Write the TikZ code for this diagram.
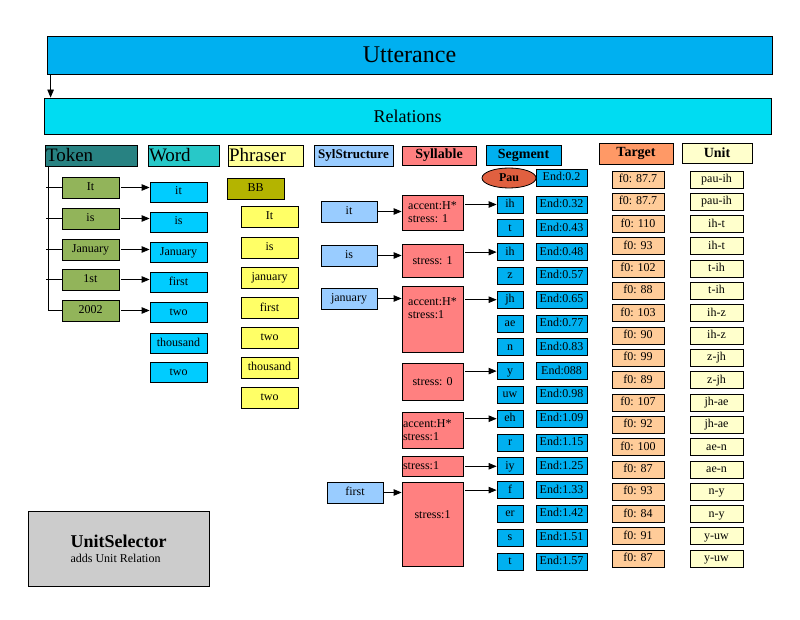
\documentclass[tikz,border=0pt]{standalone}
\usepackage{fontspec}
\setmainfont{Liberation Serif}
\usepackage{xcolor}
\usepackage{tikz}
\usetikzlibrary{positioning, arrows.meta, shapes.geometric}
\definecolor{uttblue}{RGB}{0,176,240}
\definecolor{relcyan}{RGB}{0,220,242}
\definecolor{tokteal}{RGB}{40,130,130}
\definecolor{wordturq}{RGB}{40,200,200}
\definecolor{phryellow}{RGB}{255,255,153}
\definecolor{sylblue}{RGB}{153,204,255}
\definecolor{sylred}{RGB}{255,128,128}
\definecolor{segblue}{RGB}{0,176,240}
\definecolor{tgtorange}{RGB}{255,153,102}
\definecolor{unitcream}{RGB}{255,255,204}
\definecolor{tokgreen}{RGB}{146,180,90}
\definecolor{wordcyan}{RGB}{0,204,255}
\definecolor{bbolive}{RGB}{180,180,0}
\definecolor{phritem}{RGB}{255,255,102}
\definecolor{pauorange}{RGB}{224,96,64}
\definecolor{tgtpeach}{RGB}{255,204,153}
\definecolor{selgray}{RGB}{204,204,204}

\begin{document}
\begin{tikzpicture}[x=1pt,y=-1pt]
					\tikzstyle{box}=[draw=black,line width=0.8pt,inner sep=1pt,font=\fontsize{12}{13}\selectfont]
					\tikzstyle{bighead}=[box,minimum height=21pt,align=left,font=\fontsize{19}{19}\selectfont]
					\tikzstyle{head}=[box,minimum height=21pt,font=\bfseries\fontsize{14}{15}\selectfont]
					\tikzstyle{item}=[box,minimum width=57pt,minimum height=21pt,text height=8.5pt,text depth=2.5pt]
					\tikzstyle{seg}=[box,fill=segblue,minimum height=17pt,text height=8.5pt,text depth=2.5pt]
					\tikzstyle{tgt}=[box,minimum height=17pt,text height=8.5pt,text depth=2.5pt]
					\tikzstyle{syl}=[box,fill=sylred,minimum width=61pt,align=left]
					\tikzstyle{arr}=[-{Triangle[length=8pt,width=6.5pt]},line width=0.8pt]
					\useasboundingbox (0,0) rectangle (800,620);
					% top bars
					\node[box,fill=uttblue,minimum width=725pt,minimum height=38pt,font=\fontsize{24}{26}\selectfont](utt) at (409.5,55){Utterance};
					\node[box,fill=relcyan,minimum width=727pt,minimum height=36pt,font=\fontsize{18}{20}\selectfont](rel) at (407.5,116){Relations};
					\path[arr] ([xshift=4pt]utt.south west) edge ([xshift=4pt]utt.south west |- rel.north);
					% relation headers
					\node[bighead,fill=tokteal,text width=90pt](tokhead) at (91,155.5){Token};
					\node[bighead,fill=wordturq,text width=69pt](wordhead) at (183.5,155.5){Word};
					\node[bighead,fill=phryellow,text width=73pt](phrhead) at (265.5,155.5){Phraser};
					\node[head,fill=sylblue,minimum width=79pt,font=\bfseries\fontsize{13}{14}\selectfont](sshead) at (353.5,155.5){SylStructure};
					\node[head,fill=sylred,minimum width=74pt,minimum height=19pt](sylhead) at (439,155.5){Syllable};
					\node[head,fill=segblue,minimum width=75pt,minimum height=20pt](seghead) at (523.5,155.5){Segment};
					\node[head,fill=tgtorange,minimum width=74pt](tgthead) at (636,153.5){Target};
					\node[head,fill=unitcream,minimum width=70pt,minimum height=20pt](unithead) at (717,153){Unit};
					% tokens and words
					\node[item,fill=tokgreen](t1) at (90.5,187.5){It};
					\node[item,fill=tokgreen](t2) at (90.5,218.5){is};
					\node[item,fill=tokgreen](t3) at (90.5,249.5){January};
					\node[item,fill=tokgreen](t4) at (90.5,279.5){1st};
					\node[item,fill=tokgreen](t5) at (90.5,310.5){2002};
					\node[item,fill=wordcyan,minimum height=20pt](w1) at (178.5,192){it};
					\node[item,fill=wordcyan,minimum height=20pt](w2) at (178.5,222){is};
					\node[item,fill=wordcyan,minimum height=20pt](w3) at (178.5,252){January};
					\node[item,fill=wordcyan,minimum height=20pt](w4) at (178.5,282.5){first};
					\node[item,fill=wordcyan,minimum height=20pt](w5) at (178.5,312.5){two};
					\node[item,fill=wordcyan,minimum height=20pt](w6) at (178.5,343){thousand};
					\node[item,fill=wordcyan,minimum height=20pt](w7) at (178.5,372.5){two};
					\coordinate (tokbar) at (48,166);
					\draw[line width=0.8pt] (tokbar) |- (t5.west);
					\foreach \i in {1,...,4}
						\draw[line width=0.8pt] ([xshift=-2pt]t\i.west -| tokbar) -- (t\i.west);
					\foreach \i in {1,...,5}
						\path[arr] ([xshift=2pt]t\i.east) edge (t\i.east -| w\i.west);
					% phrases
					\node[item,fill=bbolive](bb) at (255.5,188.5){BB};
					\node[item,fill=phritem](p1) at (269.5,216.5){It};
					\node[item,fill=phritem](p2) at (269.5,247.5){is};
					\node[item,fill=phritem](p3) at (269.5,277.5){january};
					\node[item,fill=phritem](p4) at (269.5,308){first};
					\node[item,fill=phritem](p5) at (269.5,337.5){two};
					\node[item,fill=phritem](p6) at (269.5,367.5){thousand};
					\node[item,fill=phritem](p7) at (269.5,397.5){two};
					% syllable structure
					\node[item,fill=sylblue,minimum width=56pt](ss1) at (349,211.5){it};
					\node[item,fill=sylblue,minimum width=56pt](ss2) at (349,255.5){is};
					\node[item,fill=sylblue,minimum width=56pt](ss3) at (349,298.5){january};
					\node[item,fill=sylblue,minimum width=56pt](ss4) at (355,492.5){first};
					\node[syl,minimum height=35pt](s1) at (432.5,212.5){accent:H*\\stress: 1};
					\node[syl,minimum height=33pt](s2) at (432.5,260.5){stress: 1};
					\node[syl,minimum height=66pt](s3) at (432.5,319){accent:H*\\stress:1\\[8pt]};
					\node[syl,minimum height=37pt](s4) at (432.5,381.5){stress: 0};
					\node[syl,minimum height=36pt,text width=59pt](s5) at (432.5,430){accent:H*\\stress:1};
					\node[syl,minimum height=20pt,text width=59pt](s6) at (432.5,466){stress:1};
					\node[syl,minimum height=84pt](s7) at (432.5,524){stress:1\\[6pt]};
					\path[arr]
						(ss1.east) edge (ss1.east -| s1.west)
						(ss2.east) edge (ss2.east -| s2.west)
						(ss3.east) edge (ss3.east -| s3.west)
						(ss4.east) edge (ss4.east -| s7.west);
					% segments
					\node[ellipse,draw=black,line width=0.8pt,fill=pauorange,minimum width=54pt,minimum height=20pt,inner sep=0pt,font=\bfseries\fontsize{12}{13}\selectfont](pau) at (509,178){Pau};
					\node[seg,minimum width=51pt](e0) at (561.5,178){End:0.2};
					\foreach \ph/\en [count=\i] in {ih/0.32,t/0.43,ih/0.48,z/0.57,jh/0.65,ae/0.77,n/0.83,y/088,uw/0.98,eh/1.09,r/1.15,iy/1.25,f/1.33,er/1.42,s/1.51,t/1.57}
					{
						\node[seg,minimum width=26pt](g\i) at (510,{180.7+23.8*\i}){\ph};
						\node[seg,minimum width=51pt](e\i) at (561.5,{180.7+23.8*\i}){End:\en};
					}
					\path[arr]
						([xshift=2pt]s1.east |- g1.west) edge (g1.west)
						([xshift=2pt]s2.east |- g3.west) edge (g3.west)
						([xshift=2pt]s3.east |- g5.west) edge (g5.west)
						([xshift=2pt]s4.east |- g8.west) edge (g8.west)
						([xshift=2pt]s5.east |- g10.west) edge (g10.west)
						([xshift=2pt]s6.east |- g12.west) edge (g12.west)
						([xshift=2pt]s7.east |- g13.west) edge (g13.west);
					% targets and units
					\foreach \fz/\un [count=\k] in {87.7/pau-ih,87.7/pau-ih,110/ih-t,93/ih-t,102/t-ih,88/t-ih,103/ih-z,90/ih-z,99/z-jh,89/z-jh,107/jh-ae,92/jh-ae,100/ae-n,87/ae-n,93/n-y,84/n-y,91/y-uw,87/y-uw}
					{
						\node[tgt,fill=tgtpeach,minimum width=52pt](f\k) at (638,{157.2+22.3*\k}){f0: \fz};
						\node[tgt,fill=unitcream,minimum width=53pt](u\k) at (716.5,{157.2+22.3*\k}){\un};
					}
					% module box
					\node[box,fill=selgray,minimum width=181pt,minimum height=75pt,align=left,font=\fontsize{12}{15}\selectfont](sel) at (118.5,548.5){{\bfseries\fontsize{18}{20}\selectfont UnitSelector}\\adds Unit Relation};
				\end{tikzpicture}
\end{document}
